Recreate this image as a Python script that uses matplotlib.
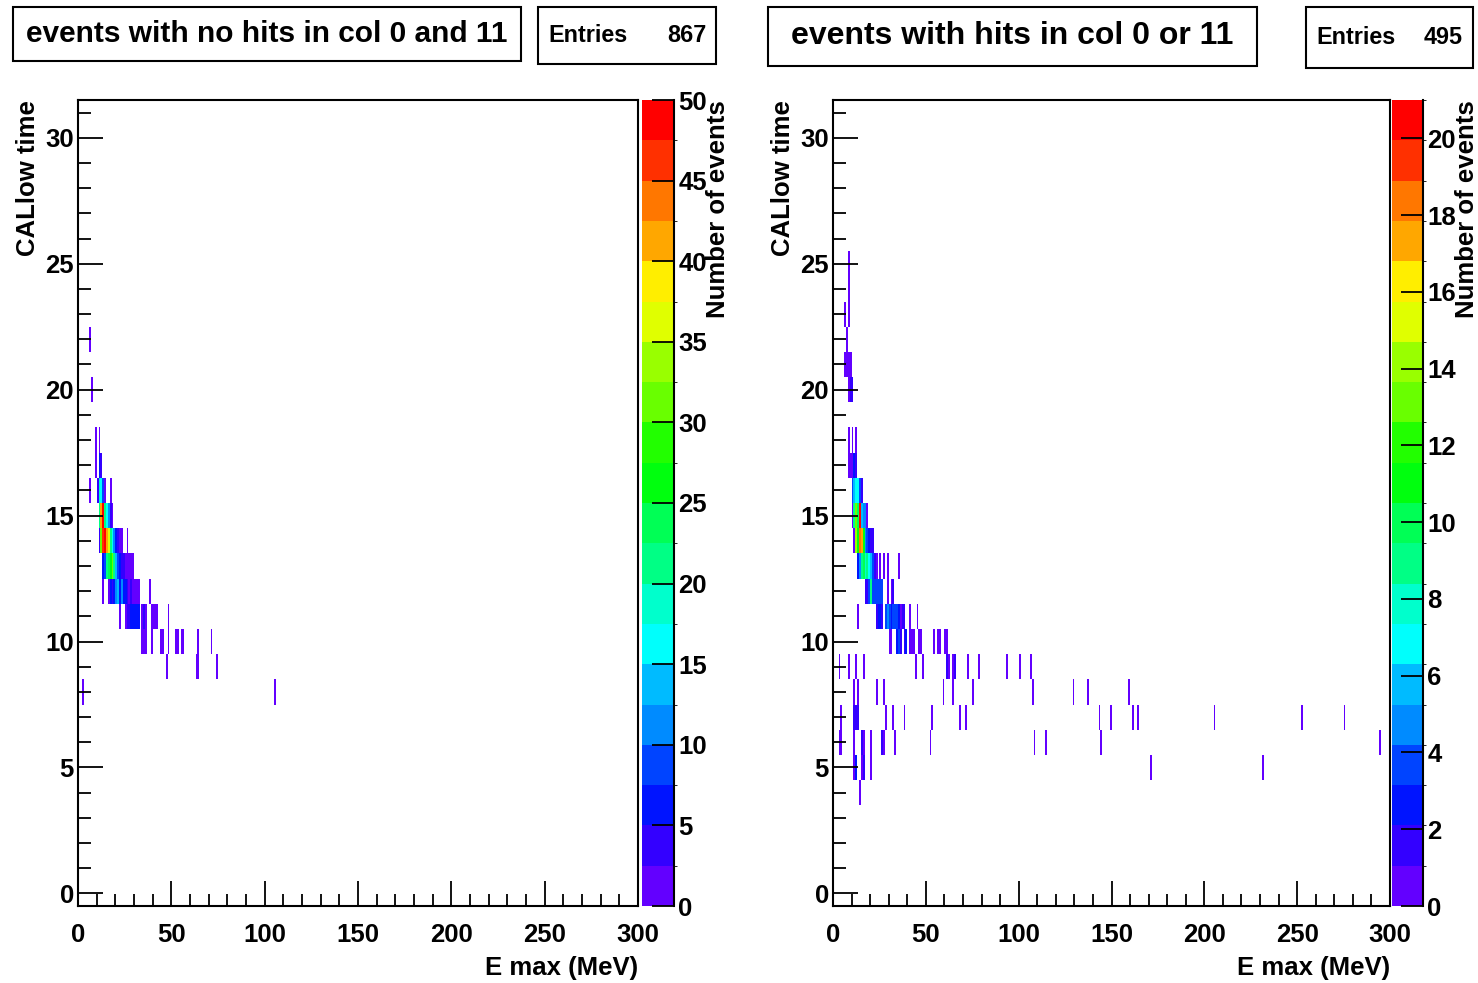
"""
CALlow time against E max, two COLZ-style 2D histograms side by side.
"""
import colorsys
import numpy as np
import matplotlib
matplotlib.use("Agg")
import matplotlib.pyplot as plt
from matplotlib.colors import ListedColormap, BoundaryNorm
from matplotlib.patches import Rectangle
from matplotlib.ticker import MultipleLocator

plt.rcParams['font.family'] = ['Liberation Sans', 'DejaVu Sans']
plt.rcParams['font.weight'] = 'bold'

# --- data: one entry per CALlow time row, E max bins (1 MeV) and counts ---
left_rows = [22, 20, 18, 17, 16, 15, 14, 13, 12, 11, 10, 9, 8]
left_emax = [
    [6],
    [7],
    [9, 11],
    [9, 11, 12],
    [6, 10, 11, 12, 13, 14, 17],
    [11, 12, 13, 14, 15, 16, 17, 18],
    [11, 12, 13, 14, 15, 16, 17, 18, 19, 20, 21, 22, 23, 26],
    [13, 14, 15, 16, 17, 18, 19, 20, 21, 22, 23, 24, 25, 26, 27, 28, 29],
    [13, 16, 17, 18, 19, 20, 21, 22, 23, 24, 25, 26, 27, 28, 29, 30, 31, 32, 38],
    [22, 25, 26, 27, 28, 29, 30, 31, 32, 34, 35, 36, 39, 40, 41, 42, 48],
    [34, 35, 36, 39, 44, 45, 48, 52, 53, 55, 56, 64, 71],
    [47, 63, 64, 74],
    [2, 105],
]
left_counts = [
    [1],
    [1],
    [1, 1],
    [1, 5, 3],
    [1, 3, 18, 16, 8, 2, 1],
    [20, 40, 49, 22, 16, 10, 4, 2],
    [4, 30, 45, 48, 42, 36, 22, 16, 12, 6, 3, 2, 2, 1],
    [6, 8, 20, 24, 26, 30, 22, 14, 8, 6, 4, 3, 2, 2, 2, 1, 1],
    [1, 2, 6, 4, 7, 10, 14, 6, 12, 7, 5, 4, 2, 3, 2, 2, 1, 2, 1],
    [1, 2, 3, 3, 5, 6, 6, 7, 6, 2, 3, 1, 2, 2, 2, 2, 1],
    [2, 2, 1, 1, 1, 2, 1, 1, 1, 1, 2, 1, 1],
    [1, 1, 1, 1],
    [1, 1],
]

right_rows = [25, 24, 23, 22, 21, 20, 18, 17, 16, 15, 14, 13, 12, 11, 10, 9, 8, 7, 6, 5, 4]
right_emax = [
    [8],
    [8],
    [6, 8],
    [7],
    [6, 7, 8, 9],
    [8, 9, 10],
    [8, 10, 12],
    [8, 9, 10, 11, 12],
    [10, 11, 12, 13, 14, 15],
    [10, 11, 12, 13, 14, 15, 16, 17, 18],
    [11, 12, 13, 14, 15, 16, 17, 18, 19, 20, 21],
    [13, 14, 15, 16, 17, 18, 19, 20, 21, 22, 23, 25, 27, 29, 35],
    [17, 18, 19, 20, 21, 22, 23, 24, 25, 26, 29, 31, 32],
    [13, 23, 24, 25, 26, 28, 29, 30, 31, 32, 33, 34, 35, 36, 37, 38, 41, 45],
    [30, 31, 34, 35, 36, 38, 39, 41, 42, 43, 46, 47, 54, 56, 57, 60, 61],
    [3, 8, 12, 16, 44, 48, 61, 62, 64, 65, 72, 78, 93, 100, 106],
    [11, 13, 23, 27, 59, 64, 75, 107, 129, 137, 159],
    [4, 11, 12, 13, 28, 32, 38, 53, 68, 71, 143, 149, 161, 164, 205, 252, 275],
    [3, 4, 11, 15, 16, 20, 26, 27, 33, 52, 108, 114, 144, 294],
    [11, 12, 15, 16, 20, 171, 231],
    [14],
]
right_counts = [
    [1],
    [1],
    [1, 1],
    [1],
    [1, 1, 1, 1],
    [1, 2, 2],
    [1, 1, 1],
    [1, 1, 1, 3, 2],
    [4, 6, 7, 7, 4, 2],
    [1, 9, 13, 10, 20, 6, 5, 5, 1],
    [1, 14, 11, 18, 17, 11, 5, 4, 3, 2, 2],
    [3, 5, 9, 10, 8, 9, 7, 6, 4, 2, 1, 1, 1, 1, 1],
    [2, 2, 4, 9, 4, 4, 4, 4, 4, 4, 1, 1, 2],
    [1, 2, 3, 3, 2, 4, 5, 4, 3, 4, 4, 4, 3, 1, 2, 2, 1, 1],
    [1, 1, 3, 4, 2, 2, 3, 1, 1, 1, 1, 1, 1, 1, 1, 1, 1],
    [1, 1, 1, 1, 1, 1, 2, 1, 1, 2, 1, 1, 1, 1, 1],
    [1, 1, 1, 1, 1, 1, 1, 1, 1, 1, 1],
    [1, 2, 2, 2, 1, 1, 1, 1, 1, 1, 1, 1, 1, 1, 1, 1, 1],
    [1, 1, 1, 2, 1, 1, 2, 1, 1, 1, 1, 1, 1, 1],
    [1, 3, 1, 2, 1, 1, 1],
    [1],
]

W, H = 1478, 983


def px(x0, y0, w, h):
    # pixel box (top-left origin) -> figure fraction rect
    return [x0 / W, 1 - (y0 + h) / H, w / W, h / H]


def fill_hist(rows, emax, counts):
    h = np.zeros((32, 300))
    for t, es, ns in zip(rows, emax, counts):
        for e, n in zip(es, ns):
            h[t, e] += n
    return np.ma.masked_equal(h, 0)


# ROOT "pretty" palette (SetPalette(1)) sampled at 20 contours
def root_palette(ncont=20):
    cols = []
    for k in range(ncont):
        i = int((k + 0.99) * 50 / ncont)
        hue = 280 - (i + 1) * 5.6
        cols.append(colorsys.hls_to_rgb(hue / 360, 0.5, 1.0))
    return ListedColormap(cols)


cmap = root_palette()
xedges = np.arange(0, 301)
yedges = np.arange(-0.5, 32.0)

fig = plt.figure(figsize=(W / 100, H / 100), dpi=100)


def box(x0, y0, w, h):
    fig.add_artist(Rectangle((x0 / W, 1 - (y0 + h) / H), w / W, h / H,
                             transform=fig.transFigure, fill=False,
                             ec='black', lw=1.5))


def panel(ax_x, ax_w, cb_x, cb_w, hist, zmax, zstep, title, tbox, tsize,
          sbox, entries, cblabel_x):
    ax = fig.add_axes(px(ax_x, 100, ax_w, 806))
    norm = BoundaryNorm(np.linspace(0, zmax, 21), cmap.N)
    mesh = ax.pcolormesh(xedges, yedges, hist, cmap=cmap, norm=norm)
    ax.set_xlim(0, 300)
    ax.set_ylim(-0.5, 31.5)
    ax.xaxis.set_major_locator(MultipleLocator(50))
    ax.xaxis.set_minor_locator(MultipleLocator(10))
    ax.yaxis.set_major_locator(MultipleLocator(5))
    ax.yaxis.set_minor_locator(MultipleLocator(1))
    ax.tick_params(which='both', direction='in', top=False, right=False,
                   labelsize=18.5, width=1.3)
    ax.tick_params(which='major', length=18)
    ax.tick_params(which='minor', length=9)
    ax.tick_params(axis='x', pad=12)
    ax.tick_params(axis='y', pad=3)
    for s in ax.spines.values():
        s.set_linewidth(1.5)

    cax = fig.add_axes(px(cb_x, 100, cb_w, 806))
    cb = fig.colorbar(mesh, cax=cax, ticks=np.arange(0, zmax + 0.01, zstep))
    cb.outline.set_visible(False)
    cax.tick_params(direction='in', length=16, width=1.3, labelsize=18.5, pad=3)
    cax.plot([1, 1], [0, 1], transform=cax.transAxes, color='black',
             lw=1.5, clip_on=False)

    fig.text((ax_x + ax_w) / W, 1 - 968 / H, "E max (MeV)", fontsize=18.5,
             ha='right', va='center')
    fig.text((ax_x - 50) / W, 1 - 100 / H, "CALlow time", fontsize=18.5,
             rotation=90, ha='center', va='top')
    fig.text(cblabel_x / W, 1 - 100 / H, "Number of events", fontsize=18.5,
             rotation=90, ha='center', va='top')

    bx, by, bw, bh = tbox
    box(bx, by, bw, bh)
    fig.text((bx + bw / 2) / W, 1 - (by + bh / 2) / H, title, fontsize=tsize,
             ha='center', va='center')
    sx, sy, sw, sh = sbox
    box(sx, sy, sw, sh)
    fig.text((sx + 10) / W, 1 - (sy + sh / 2) / H, "Entries", fontsize=16.8,
             ha='left', va='center')
    fig.text((sx + sw - 10) / W, 1 - (sy + sh / 2) / H, str(entries),
             fontsize=16.8, ha='right', va='center')


panel(78, 560, 642, 32, fill_hist(left_rows, left_emax, left_counts), 50, 5,
      "events with no hits in col 0 and 11", (13, 7, 508, 54), 21.5,
      (538, 7, 178, 57), 867, 718)
panel(833, 557, 1392, 31, fill_hist(right_rows, right_emax, right_counts), 21, 2,
      "events with hits in col 0 or 11", (768, 7, 489, 59), 23,
      (1306, 7, 167, 61), 495, 1467)

fig.savefig("out.png", dpi=100, facecolor='white')
